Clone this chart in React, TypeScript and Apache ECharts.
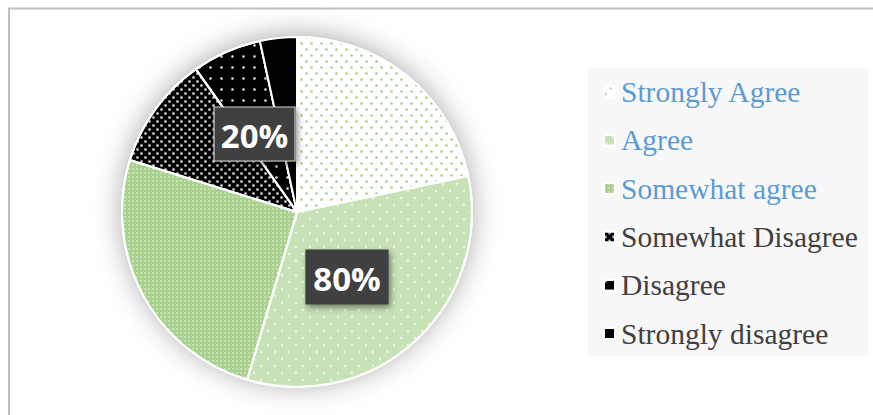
import React, { useEffect, useRef } from "react";
import * as echarts from "echarts";

const categories = [
  "Strongly Agree",
  "Agree",
  "Somewhat agree",
  "Somewhat Disagree",
  "Disagree",
  "Strongly disagree",
];
const values = [21.7, 32.9, 25.2, 10.4, 6.4, 3.4];
const legendColors = ["#5b9bd5", "#5b9bd5", "#5b9bd5", "#404040", "#404040", "#404040"];

const sliceStyles: any[] = [
  {
    color: "#ffffff",
    decal: { symbol: "circle", symbolSize: 0.9, color: "#a9d18e", dashArrayX: [[3, 7], [0, 5, 3, 2]], dashArrayY: [3, 3], rotation: 0 },
  },
  {
    color: "#c7e2b6",
    decal: { symbol: "diamond", symbolSize: 0.7, color: "#f4faf0", dashArrayX: [[4, 10], [0, 7, 4, 3]], dashArrayY: [4, 3], rotation: 0 },
  },
  {
    color: "#a9d18e",
    decal: { symbol: "circle", symbolSize: 0.8, color: "#d8ebcb", dashArrayX: [2, 2], dashArrayY: [2, 2], rotation: 0 },
  },
  {
    color: "#000000",
    decal: { symbol: "circle", symbolSize: 0.9, color: "#d4d4d4", dashArrayX: [[3, 5], [0, 4, 3, 1]], dashArrayY: [3, 1], rotation: 0 },
  },
  {
    color: "#000000",
    decal: { symbol: "circle", symbolSize: 0.9, color: "#d4d4d4", dashArrayX: [3, 8], dashArrayY: [3, 8], rotation: 0 },
  },
  { color: "#000000" },
];

export default function App() {
  const ref = useRef<HTMLDivElement>(null);
  useEffect(() => {
    document.body.style.margin = "0";
    const chart = echarts.init(ref.current!, undefined, { renderer: "svg" });
    const agree = values.slice(0, 3).reduce((a, b) => a + b, 0);
    const disagree = values.slice(3).reduce((a, b) => a + b, 0);
    const total = agree + disagree;
    const agreePct = Math.round((agree / total) * 100) + "%";
    const disagreePct = Math.round((disagree / total) * 100) + "%";

    const labelBox = (x: number, y: number, w: number, h: number, text: string, border: boolean) => [
      {
        type: "rect",
        z: 100,
        shape: { x, y, width: w, height: h },
        style: {
          fill: "#3f3f3f",
          stroke: border ? "#d0d0d0" : "#3f3f3f",
          lineWidth: 1.2,
          shadowBlur: 6,
          shadowOffsetX: 2,
          shadowOffsetY: 3,
          shadowColor: "rgba(0,0,0,0.45)",
        },
      },
      {
        type: "text",
        z: 101,
        x: x + w / 2,
        y: y + h / 2 + 1,
        style: {
          text,
          fill: "#ffffff",
          font: "bold 33px 'Open Sans', sans-serif",
          align: "center",
          verticalAlign: "middle",
        },
      },
    ];

    chart.setOption({
      animation: false,
      backgroundColor: "#ffffff",
      legend: {
        orient: "vertical",
        left: 603,
        top: 77,
        padding: 0,
        itemWidth: 11,
        itemHeight: 11,
        itemGap: 18.3,
        icon: "rect",
        selectedMode: false,
        textStyle: {
          fontFamily: "'Liberation Serif', 'Times New Roman', serif",
          fontSize: 29.5,
          lineHeight: 30,
          padding: [0, 0, 0, 1],
        },
        data: categories.map((c, i) => ({ name: c, textStyle: { color: legendColors[i] } })),
      },
      graphic: [
        {
          type: "rect",
          z: -10,
          shape: { x: 588, y: 68, width: 280, height: 288 },
          style: { fill: "#f8f8f8" },
        },
        {
          type: "polyline",
          z: 50,
          shape: { points: [[9, 415], [9, 8.5], [873, 8.5]] },
          style: { stroke: "#bfbfbf", lineWidth: 2, fill: "none" },
        },
        ...labelBox(214, 107, 81, 54, disagreePct, true),
        ...labelBox(306, 250, 82, 54, agreePct, false),
      ],
      series: [
        {
          type: "pie",
          silent: true,
          center: [297, 212],
          radius: 175,
          z: 1,
          label: { show: false },
          labelLine: { show: false },
          itemStyle: {
            color: "#ffffff",
            shadowBlur: 28,
            shadowColor: "rgba(0,0,0,0.35)",
            shadowOffsetY: -2,
          },
          data: [{ value: 1, name: "__shadow" }],
        },
        {
          type: "pie",
          center: [297, 212],
          radius: 175,
          startAngle: 90,
          clockwise: true,
          z: 2,
          label: { show: false },
          labelLine: { show: false },
          itemStyle: { borderColor: "#ffffff", borderWidth: 2 },
          emphasis: { disabled: true },
          data: categories.map((c, i) => ({
            name: c,
            value: values[i],
            itemStyle: sliceStyles[i],
          })),
        },
      ],
    });
    return () => chart.dispose();
  }, []);
  return <div ref={ref} style={{ width: 873, height: 415 }} />;
}
